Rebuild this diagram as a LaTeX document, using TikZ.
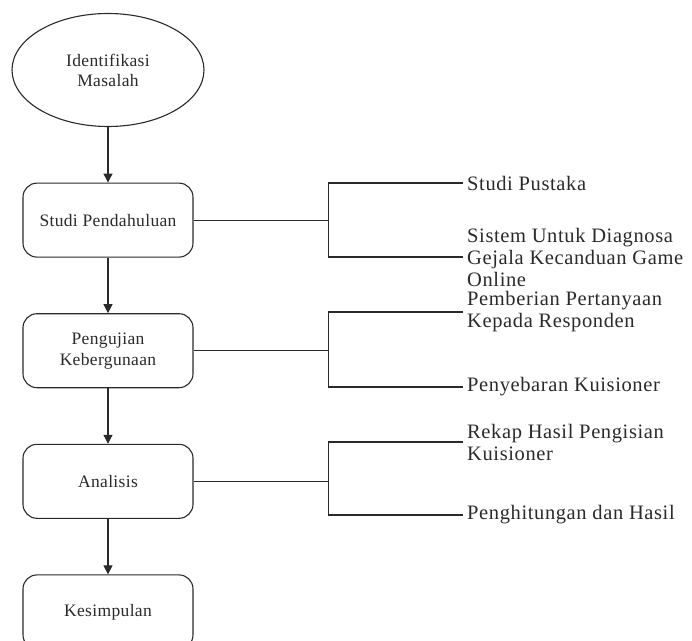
\documentclass[tikz,border=0pt]{standalone}
\usepackage{fontspec}
\setmainfont{Liberation Serif}
\newfontfamily\boxfont[LetterSpace=2]{Liberation Serif}
\newfontfamily\sidefont[LetterSpace=3]{Liberation Serif}
\usepackage{tikz}
\usetikzlibrary{shapes.geometric,arrows.meta,positioning}
\definecolor{ink}{HTML}{2A2A2A}

\begin{document}
\begin{tikzpicture}[x=1pt,y=-1pt,
    stepbox/.style={draw=ink,line width=1.1pt,rounded corners=14pt,
      minimum width=170pt,minimum height=74pt,align=center,text=ink,
      font=\boxfont\fontsize{17.5}{21}\selectfont},
    startnode/.style={ellipse,draw=ink,line width=1.1pt,minimum width=192pt,
      minimum height=113pt,inner sep=0pt,align=center,text=ink,
      font=\boxfont\fontsize{17.5}{20}\selectfont},
    sidetxt/.style={anchor=west,align=left,inner sep=4pt,text=ink,
      font=\sidefont\fontsize{20.5}{22}\selectfont},
    lnk/.style={draw=ink,line width=1.2pt},
    arw/.style={lnk,-{Triangle[length=9pt,width=9pt]}}]
  \fill[white] (0,0) rectangle (692,640);
  \useasboundingbox (0,0) rectangle (692,640);

  % main flow
  \node[startnode] (ident) at (108,70) {Identifikasi\\Masalah};
  \node[stepbox,below=55.5pt of ident] (studi) {Studi Pendahuluan};
  \node[stepbox,below=55.5pt of studi] (uji) {Pengujian\\Kebergunaan};
  \node[stepbox,below=55.5pt of uji] (analisis) {Analisis};
  \node[stepbox,below=55.5pt of analisis] (simpul) {Kesimpulan};
  \foreach \a/\b in {ident/studi,studi/uji,uji/analisis,analisis/simpul}
    \draw[arw] (\a) -- (\b);

  % branches
  \coordinate[right=135pt of studi.east] (j1);
  \coordinate[right=135pt of uji.east] (j2);
  \coordinate[right=135pt of analisis.east] (j3);

  \node[sidetxt] (pustaka) at (463,183) {Studi Pustaka};
  \node[sidetxt] (sistem) at (463,257) {Sistem Untuk Diagnosa\\Gejala Kecanduan Game\\Online};
  \node[sidetxt] (tanya) at (463,312) {Pemberian Pertanyaan\\Kepada Responden};
  \node[sidetxt] (sebar) at (463,387) {Penyebaran Kuisioner};
  \node[sidetxt] (rekap) at (463,442) {Rekap Hasil Pengisian\\Kuisioner};
  \node[sidetxt] (hitung) at (463,515) {Penghitungan dan Hasil};

  \draw[lnk] (studi.east) -- (j1);
  \draw[lnk] (pustaka.west) -| (j1) |- (sistem.west);
  \draw[lnk] (uji.east) -- (j2);
  \draw[lnk] (tanya.west) -| (j2) |- (sebar.west);
  \draw[lnk] (analisis.east) -- (j3);
  \draw[lnk] (rekap.west) -| (j3) |- (hitung.west);
\end{tikzpicture}
\end{document}
